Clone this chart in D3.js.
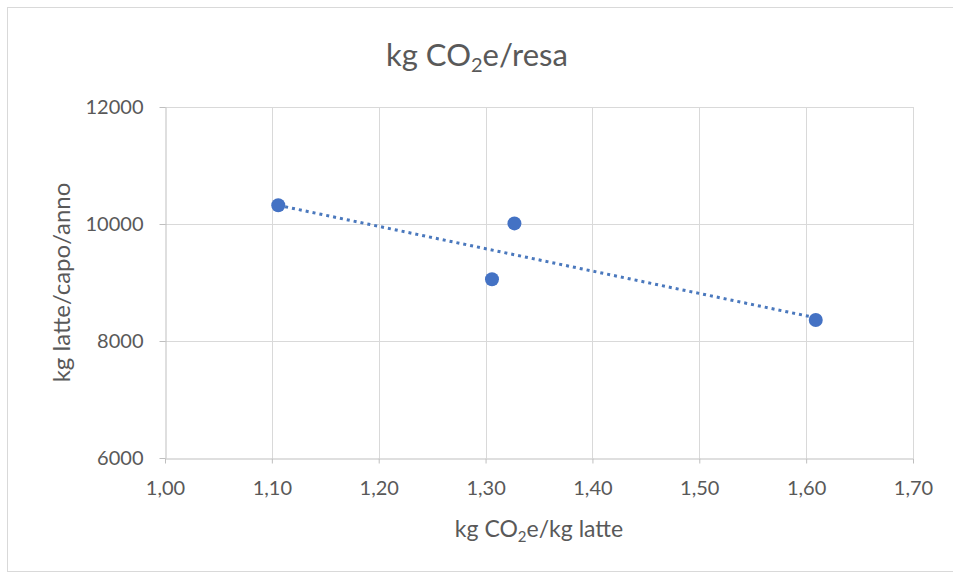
<!DOCTYPE html>
<html>
<head>
<meta charset="utf-8">
<script src="https://cdn.jsdelivr.net/npm/d3@7"></script>
<style>
  body { margin: 0; background: #fff; }
  svg { display: block; font-family: Lato, 'Open Sans', sans-serif; }
</style>
</head>
<body>
<svg id="chart" width="953" height="574"></svg>
<script>
// values
const xValues = [1.106, 1.327, 1.306, 1.609]
const yValues = [10320, 10010, 9055, 8360]
const xTicks = [1.0, 1.1, 1.2, 1.3, 1.4, 1.5, 1.6, 1.7]
const yTicks = [6000, 8000, 10000, 12000]

const svg = d3.select('#chart')
const margins = { top: 107, right: 40, bottom: 116, left: 165 }
const W = 953
const H = 574

const x = d3.scaleLinear().domain([1.0, 1.7]).range([margins.left, W - margins.right])
const y = d3.scaleLinear().domain([6000, 12000]).range([H - margins.bottom, margins.top])

// chart border
svg.append('rect')
  .attr('x', 7.5).attr('y', 7.5)
  .attr('width', 960).attr('height', 564)
  .attr('fill', 'none')
  .attr('stroke', '#d9d9d9')

const grey = '#595959'

// gridlines
svg.append('g').selectAll('line.v').data(xTicks.slice(1)).join('line')
  .attr('x1', d => Math.round(x(d)) + 0.5).attr('x2', d => Math.round(x(d)) + 0.5)
  .attr('y1', y(12000)).attr('y2', y(6000))
  .attr('stroke', '#d9d9d9')
svg.append('g').selectAll('line.h').data(yTicks.slice(1)).join('line')
  .attr('x1', x(1.0)).attr('x2', x(1.7))
  .attr('y1', d => Math.round(y(d)) + 0.5).attr('y2', d => Math.round(y(d)) + 0.5)
  .attr('stroke', '#d9d9d9')

const xAxis = d3.axisBottom(x)
  .tickValues(xTicks)
  .tickSize(5)
  .tickSizeOuter(0)
  .tickPadding(17)
  .tickFormat(d => d3.format('.2f')(d).replace('.', ','))

const yAxis = d3.axisLeft(y)
  .tickValues(yTicks)
  .tickSize(6)
  .tickSizeOuter(0)
  .tickPadding(16)
  .tickFormat(d3.format('d'))

const gx = svg.append('g')
  .attr('transform', `translate(0, ${Math.round(y(6000)) + 0.5})`)
  .call(xAxis)
const gy = svg.append('g')
  .attr('transform', `translate(${Math.round(x(1.0)) + 0.5}, 0)`)
  .call(yAxis)

for (const g of [gx, gy]) {
  g.select('.domain').attr('stroke', '#bfbfbf')
  g.selectAll('.tick line').attr('stroke', '#bfbfbf')
  g.selectAll('.tick text')
    .attr('fill', grey)
    .style('font-size', '20px')
    .style('font-family', 'Lato, sans-serif')
}

// linear trendline through the points
const n = xValues.length
const mx = d3.mean(xValues)
const my = d3.mean(yValues)
const slope = d3.sum(xValues, (v, i) => (v - mx) * (yValues[i] - my)) /
  d3.sum(xValues, v => (v - mx) * (v - mx))
const icpt = my - slope * mx
const xExt = d3.extent(xValues)
svg.append('line')
  .attr('x1', x(xExt[0])).attr('y1', y(icpt + slope * xExt[0]))
  .attr('x2', x(xExt[1])).attr('y2', y(icpt + slope * xExt[1]))
  .attr('stroke', '#4a78bd')
  .attr('stroke-width', 3)
  .attr('stroke-dasharray', '3,4')

// points
svg.append('g').selectAll('circle').data(d3.range(n)).join('circle')
  .attr('cx', i => x(xValues[i]))
  .attr('cy', i => y(yValues[i]))
  .attr('r', 7)
  .attr('fill', '#4472c4')

// title
const title = svg.append('text')
  .attr('x', 477).attr('y', 66)
  .attr('text-anchor', 'middle')
  .attr('fill', grey)
  .style('font-size', '31px')
title.append('tspan').text('kg CO')
title.append('tspan').text('2').attr('dy', 6).style('font-size', '20px')
title.append('tspan').text('e/resa').attr('dy', -6)

// x axis label
const xl = svg.append('text')
  .attr('x', 539).attr('y', 537)
  .attr('text-anchor', 'middle')
  .attr('fill', grey)
  .style('font-size', '23px')
xl.append('tspan').text('kg CO')
xl.append('tspan').text('2').attr('dy', 5).style('font-size', '15px')
xl.append('tspan').text('e/kg latte').attr('dy', -5)

// y axis label
svg.append('text')
  .attr('transform', `translate(70, ${(y(6000) + y(12000)) / 2}) rotate(-90)`)
  .attr('text-anchor', 'middle')
  .attr('fill', grey)
  .style('font-size', '24px')
  .text('kg latte/capo/anno')
</script>
</body>
</html>
